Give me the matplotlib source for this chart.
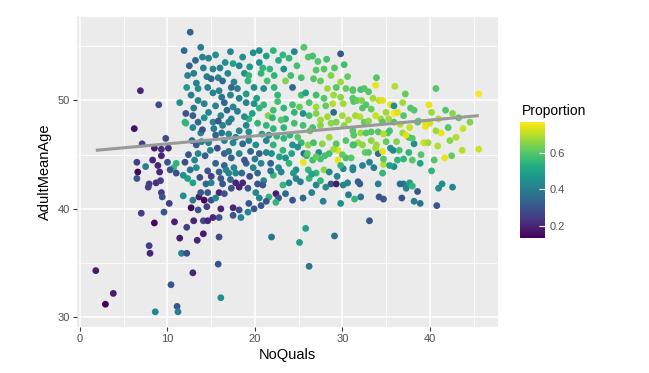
import numpy as np
import matplotlib
matplotlib.use("Agg")
import matplotlib.pyplot as plt
from matplotlib.ticker import MultipleLocator

# (NoQuals, AdultMeanAge, Proportion), grouped by region
left_pts = [
    (1.8,34.3,0.18),(2.9,31.2,0.13),(3.8,32.2,0.18),(6.2,47.4,0.16),(6.9,50.9,0.2),(9.0,49.6,0.28),
    (7.1,46.0,0.25),(8.5,45.6,0.18),(9.3,45.5,0.22),(10.1,45.6,0.22),(9.8,46.5,0.28),(9.3,44.9,0.2),
    (6.5,44.3,0.25),(7.5,43.9,0.4),(8.3,44.5,0.2),(6.6,43.4,0.15),(8.9,44.0,0.2),(9.1,43.4,0.2),
    (11.0,44.2,0.55),(10.7,43.8,0.55),(10.0,44.3,0.3),(10.3,43.6,0.3),(11.0,43.3,0.28),(12.0,44.3,0.28),
    (6.5,42.8,0.3),(7.9,42.3,0.25),(7.8,42.0,0.25),(8.7,42.4,0.22),(9.2,42.6,0.25),(9.3,41.5,0.25),
    (9.4,41.1,0.3),(10.2,40.5,0.25),(11.8,41.2,0.45),(7.0,39.6,0.25),(8.5,38.7,0.15),(9.6,39.7,0.3),
    (10.8,38.8,0.18),(12.2,38.3,0.25),(12.7,40.1,0.15),(13.6,41.1,0.18),(14.2,40.8,0.15),(12.9,40.8,0.4),
    (13.5,39.9,0.3),(13.0,38.9,0.2),(14.1,38.9,0.28),(12.3,42.8,0.5),(12.9,42.4,0.5),(13.8,41.5,0.3),
    (13.3,43.8,0.45),(11.8,43.1,0.45),(13.5,45.1,0.42),(13.3,45.9,0.3),(12.9,47.5,0.42),(12.1,47.9,0.55),
    (13.8,47.0,0.42),
]
lower_pts = [
    (14.1,37.7,0.18),(13.4,37.1,0.2),(11.4,37.3,0.18),(7.9,36.6,0.25),(8.0,35.9,0.2),(11.6,35.9,0.42),
    (12.2,35.9,0.28),(12.9,34.1,0.2),(10.4,33.0,0.3),(11.1,31.0,0.3),(8.6,30.5,0.42),(11.2,30.5,0.4),
    (15.9,37.4,0.28),(21.9,37.4,0.38),(25.8,38.2,0.5),(25.1,36.9,0.48),(29.1,37.5,0.38),(15.8,34.9,0.3),
    (26.2,34.7,0.38),(16.1,31.8,0.45),
]
upper_left_pts = [
    (12.6,56.3,0.33),(11.9,54.6,0.35),(13.8,54.9,0.4),(14.0,54.0,0.42),(12.5,53.2,0.33),(12.3,52.3,0.42),
    (13.0,52.5,0.4),(14.1,53.0,0.42),(12.2,51.2,0.48),(13.3,51.6,0.42),(13.5,51.1,0.45),(11.4,49.8,0.45),
    (13.0,49.3,0.4),(13.5,50.0,0.42),(12.1,48.8,0.3),(12.9,48.6,0.32),(12.0,48.0,0.55),
    (15.5,54.2,0.45),(16.0,53.0,0.4),(17.2,54.5,0.42),(18.6,54.0,0.45),(19.4,53.1,0.48),(18.8,52.5,0.45),
    (13.2,53.7,0.35),(14.5,52.2,0.4),(21.3,54.1,0.5),(19.8,54.4,0.45),
]
upper_mid_pts = [
    (25.6,54.9,0.6),(29.8,54.3,0.3),(30.2,53.3,0.58),(20.5,54.6,0.45),(22.1,54.6,0.55),(23.2,54.2,0.55),
    (24.5,54.5,0.42),(23.9,53.9,0.55),(22.7,53.7,0.52),(26.1,54.0,0.6),(26.6,54.1,0.58),(14.7,53.9,0.42),
    (16.6,53.5,0.45),(17.5,53.4,0.5),(18.2,53.2,0.42),(20.5,53.5,0.45),(20.9,53.0,0.55),(21.7,52.9,0.55),
    (23.3,52.9,0.45),(24.8,53.2,0.58),(27.0,52.8,0.6),(27.9,52.9,0.6),(26.7,52.0,0.6),(27.5,51.8,0.62),
    (29.8,51.7,0.68),(29.3,51.2,0.6),(30.4,51.1,0.62),(28.3,51.1,0.68),(31.2,50.9,0.62),(25.3,52.1,0.58),
    (24.1,52.3,0.58),(23.5,51.8,0.65),(22.2,52.3,0.55),(21.4,51.8,0.58),(19.3,52.3,0.55),(19.2,51.8,0.55),
    (20.7,52.5,0.55),(15.2,52.9,0.42),(15.0,52.0,0.35),(15.8,52.1,0.42),(16.3,51.8,0.35),(16.9,52.5,0.42),
    (17.6,51.7,0.42),(18.0,51.1,0.4),(17.3,51.2,0.35),(15.9,50.9,0.42),(15.2,50.7,0.42),(14.6,51.2,0.42),
    (19.9,51.2,0.45),(21.0,51.1,0.45),(22.2,51.2,0.55),(22.6,50.5,0.55),(24.3,51.2,0.35),(25.3,50.5,0.58),
    (25.8,50.7,0.5),(27.0,50.5,0.58),(27.9,50.2,0.6),(29.0,50.5,0.68),(30.1,49.7,0.68),(31.2,50.2,0.6),
    (28.1,49.5,0.62),(27.0,49.4,0.68),(29.0,48.9,0.35),(30.0,48.6,0.68),(26.2,48.6,0.58),(25.5,48.8,0.45),
    (24.5,48.9,0.55),(23.3,49.3,0.55),(22.1,49.1,0.58),(21.5,48.6,0.65),(20.5,49.3,0.55),(19.9,49.7,0.45),
    (19.0,49.8,0.42),(18.2,50.2,0.42),(17.5,49.4,0.42),(16.5,49.8,0.33),(15.5,49.5,0.42),(14.7,48.9,0.42),
    (16.1,48.6,0.42),(17.3,48.3,0.42),(19.3,48.3,0.55),(23.5,48.3,0.55),(27.5,48.2,0.68),(30.7,48.2,0.68),
    (28.7,52.3,0.65),(29.1,53.0,0.6),(30.6,52.2,0.62),(28.2,53.8,0.58),(27.2,53.6,0.6),
]
upper_right_pts = [
    (33.9,52.1,0.6),(33.8,51.4,0.75),(40.7,51.1,0.6),(45.6,50.6,0.77),(31.2,51.0,0.6),(32.1,51.0,0.58),
    (32.5,51.1,0.6),(31.3,49.9,0.6),(31.7,50.0,0.62),(33.5,50.2,0.68),(34.2,50.0,0.72),(34.6,50.0,0.74),
    (32.7,49.6,0.6),(35.5,49.6,0.75),(35.9,49.5,0.45),(39.9,49.6,0.75),(37.8,49.3,0.6),(38.2,49.1,0.6),
    (40.2,48.9,0.68),(41.8,49.1,0.6),(32.3,49.3,0.6),(33.3,49.2,0.62),(35.0,48.9,0.68),(35.9,48.8,0.77),
    (36.3,48.9,0.74),(37.0,48.6,0.6),(38.7,48.1,0.62),(39.5,47.9,0.74),(43.3,48.4,0.6),(31.5,48.6,0.68),
    (34.4,48.3,0.68),(32.5,48.0,0.62),
    (32.0,48.5,0.7),(33.0,48.1,0.66),(33.8,48.6,0.72),(35.3,48.3,0.68),(36.6,47.8,0.7),(37.7,47.5,0.72),
    (32.2,50.0,0.65),(33.0,50.8,0.6),(36.9,49.8,0.68),(37.2,50.6,0.62),(36.0,51.3,0.7),
    (40.0,47.9,0.73),(41.0,48.3,0.7),(42.6,48.8,0.66),(43.8,47.4,0.72),(44.6,48.0,0.65),
]
right_pts = [
    (33.1,38.9,0.3),(40.8,40.3,0.3),(38.9,40.5,0.38),(38.2,40.7,0.4),(36.8,41.0,0.3),(38.6,41.6,0.3),
    (34.7,40.9,0.3),(34.2,41.1,0.3),(32.1,41.1,0.38),(31.4,40.9,0.55),(41.0,41.9,0.45),(41.4,42.3,0.45),
    (42.6,42.0,0.42),(37.0,42.3,0.4),(37.3,41.9,0.42),(36.6,42.3,0.35),(37.7,42.4,0.5),(38.0,42.1,0.55),
    (34.1,42.3,0.4),(31.8,42.5,0.32),(32.0,42.3,0.32),(34.6,43.3,0.55),(35.9,43.9,0.45),(31.2,43.8,0.42),
    (32.3,44.0,0.42),(33.1,44.3,0.42),(33.6,43.8,0.4),(34.7,44.1,0.7),(34.7,44.6,0.6),(37.0,44.6,0.55),
    (38.0,44.5,0.6),(38.9,44.2,0.5),(40.5,44.5,0.6),(41.7,44.7,0.75),(34.1,45.1,0.35),(35.8,45.4,0.42),
    (35.5,45.6,0.45),(37.6,45.2,0.55),(33.8,45.6,0.68),(34.6,45.3,0.75),(45.6,45.5,0.72),(43.0,46.6,0.7),
    (41.3,47.0,0.75),(40.7,47.2,0.68),(42.1,47.5,0.6),(39.5,47.6,0.75),(39.3,46.1,0.72),(39.8,46.1,0.68),
    (38.2,46.0,0.45),(37.6,46.6,0.58),(36.9,47.0,0.68),(37.3,46.8,0.74),(38.0,46.5,0.6),(35.2,47.0,0.6),
    (35.4,47.2,0.58),(34.1,47.1,0.6),(34.6,48.0,0.6),(33.3,47.1,0.6),(31.3,46.8,0.6),(32.1,47.0,0.68),
    (32.7,47.0,0.6),(31.8,46.1,0.68),(32.3,45.9,0.66),(31.2,45.9,0.6),(33.9,45.9,0.68),(35.9,48.0,0.6),
    (38.6,48.0,0.6),
    (36.2,46.2,0.65),(35.0,46.2,0.62),(34.7,46.9,0.7),(33.3,46.3,0.66),(32.6,45.2,0.62),(36.5,45.4,0.58),
    (36.3,44.5,0.55),(35.4,44.0,0.5),(33.0,45.2,0.6),
    (40.9,45.8,0.7),(42.3,46.3,0.66),(39.0,45.0,0.6),(40.2,43.5,0.55),(42.5,44.9,0.62),(43.7,45.4,0.7),
]
core_pts = [
    (15.2,48.0,0.42),(16.3,47.7,0.42),(17.0,48.0,0.4),(18.2,47.2,0.42),(19.3,47.1,0.45),(20.3,47.9,0.55),
    (21.3,47.7,0.55),(22.1,47.4,0.55),(23.3,47.5,0.55),(24.5,47.9,0.58),(25.5,47.7,0.58),(26.6,47.5,0.58),
    (27.5,47.7,0.66),(28.7,47.9,0.66),(30.2,47.7,0.66),(31.2,47.2,0.6),(15.5,46.8,0.33),(14.7,46.1,0.42),
    (16.5,46.3,0.42),(17.5,46.1,0.42),(19.3,46.3,0.42),(20.1,45.9,0.45),(21.3,46.3,0.42),(22.1,45.9,0.55),
    (23.3,46.5,0.55),(24.3,45.9,0.45),(25.3,46.1,0.55),(26.1,45.9,0.66),(26.7,46.1,0.58),(27.7,46.0,0.66),
    (28.5,46.6,0.68),(29.3,46.0,0.6),(30.4,46.3,0.6),(31.3,45.9,0.58),(16.5,45.1,0.33),(17.3,44.7,0.33),
    (18.2,45.1,0.42),(20.5,45.1,0.33),(21.3,45.2,0.42),(23.2,45.4,0.55),(23.5,44.7,0.45),(24.9,45.7,0.45),
    (25.6,45.1,0.35),(27.3,45.2,0.45),(28.5,45.1,0.58),(29.5,45.4,0.74),(30.4,44.7,0.58),(25.5,44.3,0.75),
    (26.6,44.5,0.58),(27.5,44.6,0.58),(29.5,44.5,0.75),(15.5,44.2,0.33),(16.5,44.0,0.33),(17.6,43.8,0.42),
    (16.7,43.6,0.42),(17.8,43.3,0.42),(17.0,43.3,0.42),(15.9,43.4,0.33),(19.0,44.2,0.33),(19.8,43.8,0.42),
    (20.7,44.2,0.42),(21.8,44.2,0.33),(22.7,43.8,0.45),(23.9,44.2,0.55),(24.7,43.6,0.45),(26.1,43.6,0.55),
    (27.0,43.3,0.55),(27.9,43.6,0.66),(28.5,43.4,0.42),(30.1,43.7,0.42),(31.2,43.6,0.42),(15.0,42.4,0.42),
    (16.1,42.8,0.3),(17.8,42.4,0.2),(18.6,42.4,0.2),(20.3,42.3,0.3),(21.0,42.6,0.42),(22.1,43.1,0.55),
    (23.2,42.2,0.55),(23.9,42.4,0.42),(24.7,42.8,0.42),(26.2,42.8,0.55),(27.0,42.2,0.42),(27.5,42.6,0.55),
    (28.7,42.3,0.3),(29.3,42.3,0.18),(30.1,42.2,0.42),(30.6,42.4,0.42),(14.6,41.5,0.3),(15.9,41.5,0.2),
    (16.5,41.4,0.3),(17.3,41.9,0.3),(18.2,42.0,0.2),(19.2,41.9,0.3),(20.1,41.5,0.42),(20.9,42.2,0.3),
    (22.4,41.4,0.18),(21.6,41.1,0.55),(22.7,41.0,0.3),(22.4,40.6,0.55),(24.3,40.8,0.3),(15.0,40.8,0.3),
    (15.5,41.0,0.42),(16.1,40.0,0.2),(17.5,40.1,0.2),(18.2,39.9,0.28),(19.3,40.5,0.3),(20.5,41.0,0.42),
    (20.7,40.3,0.3),(19.9,40.0,0.3),(15.2,39.2,0.2),(15.9,39.2,0.3),(17.5,39.4,0.3),(18.4,39.2,0.42),
    (19.2,39.7,0.42),(14.6,38.9,0.2),
]
core_fill_pts = [
    (12.4,45.0,0.3),(12.8,46.3,0.35),(13.9,46.2,0.4),(14.3,44.9,0.33),(14.6,43.5,0.3),(13.7,42.9,0.28),
    (14.4,42.3,0.35),(12.6,43.6,0.38),(14.9,45.4,0.42),(15.3,47.4,0.4),(14.2,48.4,0.45),(13.5,48.0,0.35),
    (12.7,50.5,0.4),(14.2,49.7,0.42),(15.8,48.1,0.3),(14.0,47.3,0.3),(15.7,45.6,0.28),(15.0,43.0,0.25),
    (13.1,44.5,0.42),(14.5,40.2,0.25),
    (16.2,47.0,0.38),(17.0,46.9,0.45),(17.8,46.6,0.4),(18.6,46.0,0.35),(18.8,48.5,0.45),(19.7,48.8,0.5),
    (18.0,49.0,0.4),(16.8,49.1,0.35),(17.2,50.5,0.42),(16.2,50.3,0.38),(19.0,50.6,0.48),(20.2,50.2,0.5),
    (19.5,45.3,0.35),(18.8,44.5,0.3),(17.0,45.3,0.38),(18.5,43.3,0.35),(19.4,43.0,0.28),(16.3,42.3,0.3),
    (17.2,42.7,0.35),(19.0,47.7,0.42),
    (20.8,46.9,0.5),(21.6,46.8,0.45),(22.5,46.7,0.55),(24.0,46.8,0.55),(24.9,46.6,0.6),(23.0,48.2,0.6),
    (22.0,48.4,0.55),(24.3,49.6,0.58),(25.1,49.4,0.62),(21.0,49.6,0.55),(22.6,49.9,0.58),(20.0,44.6,0.4),
    (21.9,45.1,0.45),(22.8,44.8,0.5),(24.2,45.1,0.5),(25.9,44.9,0.55),(24.4,43.3,0.48),(25.2,42.5,0.4),
    (23.0,43.4,0.42),(21.8,43.5,0.38),(20.3,43.3,0.35),(26.5,41.5,0.42),(25.5,41.0,0.35),(23.5,41.4,0.35),
    (21.3,40.7,0.3),
    (26.3,47.2,0.62),(27.0,48.8,0.65),(28.3,48.5,0.68),(29.3,48.0,0.65),(28.9,49.7,0.7),(29.8,50.3,0.66),
    (26.2,49.8,0.6),(26.0,45.1,0.6),(27.0,44.8,0.62),(28.0,44.9,0.58),(29.0,45.5,0.68),(30.0,45.0,0.62),
    (31.0,44.7,0.6),(29.8,44.0,0.55),(26.5,43.2,0.5),(28.1,42.0,0.45),(29.4,43.0,0.42),(30.7,41.3,0.4),
    (27.8,40.7,0.42),(29.8,40.5,0.45),
]

# fitted trend line end points
fit_noquals = [1.8, 45.6]
fit_age = [45.4, 48.6]

x_ticks = [0, 10, 20, 30, 40]
y_ticks = [30, 40, 50]
cbar_ticks = [0.2, 0.4, 0.6]

all_pts = (left_pts + lower_pts + upper_left_pts + upper_mid_pts + upper_right_pts
           + right_pts + core_pts + core_fill_pts)
noquals = np.array([p[0] for p in all_pts])
adult_mean_age = np.array([p[1] for p in all_pts])
proportion = np.array([p[2] for p in all_pts])

plt.rcParams['font.family'] = ['Liberation Sans', 'DejaVu Sans']

fig = plt.figure(figsize=(6.49, 3.73), dpi=100)
ax = fig.add_axes([77/649, 1-327/373, (498-77)/649, (327-17)/373])
ax.set_facecolor('#EBEBEB')
for s in ax.spines.values():
    s.set_visible(False)

ax.set_xlim(-0.35, 47.8)
ax.set_ylim(29.1, 57.7)
ax.set_xticks(x_ticks)
ax.set_yticks(y_ticks)
ax.xaxis.set_minor_locator(MultipleLocator(5))
ax.yaxis.set_minor_locator(MultipleLocator(5))
ax.grid(which='major', color='white', linewidth=1.1)
ax.grid(which='minor', color='white', linewidth=0.55)
ax.set_axisbelow(True)
ax.tick_params(which='major', length=3, width=0.8, color='#333333', labelsize=8, labelcolor='#4D4D4D', pad=2)
ax.tick_params(which='minor', length=0)

sc = ax.scatter(noquals, adult_mean_age, c=proportion, cmap='viridis', vmin=0.134, vmax=0.77,
                s=24, linewidths=0, zorder=3)
ax.plot(fit_noquals, fit_age, color='#999999', linewidth=2.2, zorder=4, solid_capstyle='butt')

ax.set_xlabel('NoQuals', fontsize=10.5, color='black', labelpad=3)
ax.set_ylabel('AdultMeanAge', fontsize=10.5, color='black', labelpad=4)

cax = fig.add_axes([520/649, 1-238/373, 25/649, 116/373])
cb = fig.colorbar(sc, cax=cax, ticks=cbar_ticks)
cb.outline.set_visible(False)
cb.ax.tick_params(length=4, width=0.8, color='white', direction='in', labelsize=8, labelcolor='#4D4D4D', pad=3)
cb.ax.set_yticklabels(['0.2', '0.4', '0.6'])
fig.text(522/649, 1-111/373, 'Proportion', fontsize=10, va='center', ha='left')

fig.savefig('out.png', dpi=100, facecolor='white')
